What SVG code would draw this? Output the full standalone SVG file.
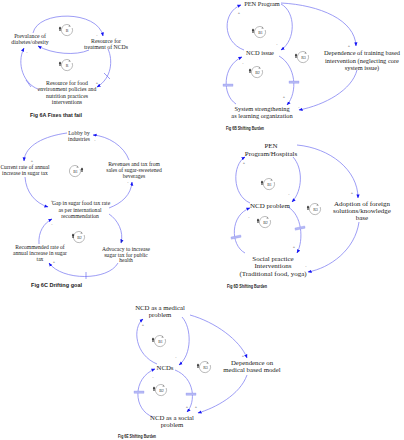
<svg xmlns="http://www.w3.org/2000/svg" xmlns:xlink="http://www.w3.org/1999/xlink" width="404" height="440" viewBox="0 0 404 440">
<style>
.bg{fill:#fff}
.ln{fill:none;stroke:#8484f2;stroke-width:0.8;marker-end:url(#ah)}
.t{font-family:"Liberation Serif","Times New Roman",serif;fill:#222;text-anchor:middle}
.a{font-size:5.8px}
.c{font-size:5.6px}
.b{font-size:6.4px}
.d{font-size:7px}
.e{font-size:6.8px}
.s{font-family:"Liberation Sans",Arial,sans-serif;font-size:4px;fill:#555;text-anchor:middle}
.cap{font-family:"Liberation Sans",Arial,sans-serif;font-weight:bold;font-size:5px;fill:#222}
.cs{font-size:5px}
.lp{font-family:"Liberation Serif",serif;font-size:4px;fill:#333;text-anchor:middle}
.dl{fill:#b4b8f4;stroke:#8c90ee;stroke-width:0.3}
.dx{stroke:#6d6df0;stroke-width:0.7}
</style>
<defs>
<marker id="ah" viewBox="0 0 10 10" refX="9" refY="5" markerWidth="4" markerHeight="4" markerUnits="userSpaceOnUse" orient="auto">
<path d="M0,1 L10,5 L0,9 z" fill="#1515f5"/>
</marker>
<g id="lc"><path d="M5.2,-2 A5.6,5.6 0 1 1 2.4,-5" fill="none" stroke="#777" stroke-width="0.5"/><path d="M2.4,-5 L3.9,-3.5 L1.4,-3.6z" fill="#777"/></g>
<g id="ic"><path d="M0,-2.6 L1.2,-0.6 L0.45,-0.6 L0.45,2 L-0.45,2 L-0.45,-0.6 L-1.2,-0.6z" fill="#000"/></g>
</defs>
<rect class="bg" x="0" y="0" width="404" height="440"/>

<g id="connectors">
<!-- 6A -->
<path class="ln" d="M33,33 C38,10 98,10 103,36"/>
<path class="ln" d="M89,50 C76,56 52,54 38,46"/>
<path class="ln" d="M108,49 C113,60 112,78 97,87"/>
<path class="ln" d="M38,89 C24,84 16,64 24,48"/>
<!-- 6B -->
<path class="ln" d="M244,50 C222,42 222,12 241,5"/>
<path class="ln" d="M281,4 C296,12 296,40 281,50"/>
<path class="ln" d="M236,104 C222,95 222,66 242,57"/>
<path class="ln" d="M279,56 C296,66 298,92 287,105"/>
<path class="ln" d="M281,3 C320,5 355,20 356,46"/>
<path class="ln" d="M357,70 C352,90 325,105 299,110"/>
<!-- 6C -->
<path class="ln" d="M67,133 C45,136 25,145 24,161"/>
<path class="ln" d="M129,160 C124,146 108,136 93,135"/>
<path class="ln" d="M25,177 C26,192 35,203 48,207"/>
<path class="ln" d="M109,208 C122,203 131,195 132,182"/>
<path class="ln" d="M109,214 C118,220 124,232 121,243"/>
<path class="ln" d="M118,263 C108,281 62,281 49,263"/>
<path class="ln" d="M39,244 C38,232 44,223 52,219"/>
<!-- 6D -->
<path class="ln" d="M250,203 C232,195 232,165 245,157"/>
<path class="ln" d="M293,157 C303,168 303,190 292,202"/>
<path class="ln" d="M245,253 C230,245 230,215 250,208"/>
<path class="ln" d="M288,207 C302,215 304,240 297,253"/>
<path class="ln" d="M297,145 C330,148 358,170 358,198"/>
<path class="ln" d="M359,222 C355,250 330,268 308,272"/>
<!-- 6E -->
<path class="ln" d="M157,364 C135,355 132,328 143,319"/>
<path class="ln" d="M182,317 C192,328 192,355 179,365"/>
<path class="ln" d="M153,417 C133,410 132,378 155,369"/>
<path class="ln" d="M175,370 C195,378 196,402 187,412"/>
<path class="ln" d="M190,315 C215,322 240,340 247,358"/>
<path class="ln" d="M247,375 C240,395 215,408 198,413"/>
<!-- delays -->
<g class="dx"><line x1="104" y1="73" x2="110" y2="79"/><line x1="26" y1="80" x2="31" y2="87"/></g>
<line class="dx" x1="86" y1="272" x2="86" y2="279"/>
<rect class="dl" x="223" y="84" width="10" height="2.2"/>
<rect class="dl" x="289" y="81" width="10" height="2.2"/>
<rect class="dl" x="231" y="236" width="10" height="2.2" transform="rotate(-12 236 237)"/>
<rect class="dl" x="295" y="227" width="10" height="2.2" transform="rotate(-12 300 228)"/>
<rect class="dl" x="134" y="391" width="10" height="2.2"/>
<rect class="dl" x="186" y="393" width="10" height="2.2"/>
</g>

<g id="fig6A">
<g id="n6a1"><text class="t a" x="30" y="38">Prevalance of</text><text class="t a" x="30" y="44">diabetes/obesity</text></g>
<g id="n6a2"><text class="t a" x="106" y="43">Resource for</text><text class="t a" x="106" y="49">treatment of NCDs</text></g>
<g id="n6a3"><text class="t a" x="67" y="85">Resource for food</text><text class="t a" x="67" y="91">environment policies and</text><text class="t a" x="67" y="97.5">nutrition practices</text><text class="t a" x="67" y="104">interventions</text></g>
<text class="s" x="97" y="36">-</text><text class="s" x="97" y="84">+</text><text class="s" x="27" y="53">-</text>
<use xlink:href="#lc" x="67" y="30"/><text class="lp" x="67" y="31.5">B</text><use xlink:href="#ic" x="60" y="29"/>
<use xlink:href="#lc" x="67" y="65"/><text class="lp" x="67" y="66.5">R</text><use xlink:href="#ic" x="60" y="64"/>
<text class="cap" x="30" y="117" textLength="52" lengthAdjust="spacingAndGlyphs">Fig 6A Fixes that fail</text>
</g>

<g id="fig6B">
<g id="n6b1"><text class="t b" x="262" y="6">PEN Program</text></g>
<g id="n6b2"><text class="t b" x="260" y="55">NCD issue</text></g>
<g id="n6b3"><text class="t b" x="362" y="55">Dependence of training based</text><text class="t b" x="362" y="62.5">intervention (neglecting core</text><text class="t b" x="362" y="69.5">system issue)</text></g>
<g id="n6b4"><text class="t b" x="262" y="111">System strengthening</text><text class="t b" x="262" y="118">as learning organization</text></g>
<text class="s" x="239" y="14">+</text><text class="s" x="277" y="45">-</text><text class="s" x="243" y="64">-</text><text class="s" x="284" y="98">+</text><text class="s" x="349" y="47">+</text><text class="s" x="299" y="108">-</text>
<use xlink:href="#lc" x="260" y="32"/><text class="lp" x="260.5" y="33.5">B1</text><use xlink:href="#ic" x="253" y="31"/>
<use xlink:href="#lc" x="257" y="72"/><text class="lp" x="257.5" y="73.5">B2</text><use xlink:href="#ic" x="250" y="71"/>
<use xlink:href="#lc" x="303" y="57"/><text class="lp" x="303.5" y="58.5">R3</text><use xlink:href="#ic" x="296" y="56"/>
<text class="cap cs" x="226" y="129.5" textLength="38" lengthAdjust="spacingAndGlyphs">Fig 6B Shifting Burden</text>
</g>

<g id="fig6C">
<g id="n6c1"><text class="t c" x="79" y="135">Lobby by</text><text class="t c" x="79" y="141">industries</text></g>
<g id="n6c2"><text class="t c" x="25" y="169">Current rate of annual</text><text class="t c" x="25" y="175">increase in sugar tax</text></g>
<g id="n6c3"><text class="t c" x="134" y="166">Revenues and tax from</text><text class="t c" x="134" y="172">sales of sugar-sweetened</text><text class="t c" x="134" y="177.5">beverages</text></g>
<g id="n6c4"><text class="t c" x="81" y="205">Gap in sugar food tax rate</text><text class="t c" x="80" y="211.5">as per international</text><text class="t c" x="80" y="217.5">recommendation</text></g>
<g id="n6c5"><text class="t c" x="40" y="249">Recommended rate of</text><text class="t c" x="40" y="255">annual increase in sugar</text><text class="t c" x="40" y="261">tax</text></g>
<g id="n6c6"><text class="t c" x="126" y="251">Advocacy to increase</text><text class="t c" x="126" y="256.5">sugar tax for public</text><text class="t c" x="126" y="262">health</text></g>
<text class="s" x="95" y="141">-</text><text class="s" x="32" y="162">+</text><text class="s" x="52" y="202">+</text><text class="s" x="128" y="183">-</text><text class="s" x="52" y="225">-</text><text class="s" x="122" y="242">+</text><text class="s" x="54" y="263">+</text>
<use xlink:href="#lc" x="75" y="171"/><text class="lp" x="75.5" y="172.5">B1</text><use xlink:href="#ic" x="82" y="170"/>
<use xlink:href="#lc" x="79" y="237"/><text class="lp" x="79.5" y="238.5">B2</text><use xlink:href="#ic" x="73" y="236"/>
<text class="cap" x="31" y="287" textLength="51" lengthAdjust="spacingAndGlyphs">Fig 6C Drifting goal</text>
</g>

<g id="fig6D">
<g id="n6d1"><text class="t d" x="271" y="148">PEN</text><text class="t d" x="271" y="155.5">Program/Hospitals</text></g>
<g id="n6d2"><text class="t d" x="270" y="207.5">NCD problem</text></g>
<g id="n6d3"><text class="t d" x="362" y="205.5">Adoption of foreign</text><text class="t d" x="362" y="213">solutions/knowledge</text><text class="t d" x="362" y="220">base</text></g>
<g id="n6d4"><text class="t d" x="273" y="260.5">Social practice</text><text class="t d" x="273" y="268">Interventions</text><text class="t d" x="273" y="275.5">(Traditional food, yoga)</text></g>
<text class="s" x="244" y="164">+</text><text class="s" x="289" y="195">-</text><text class="s" x="249" y="218">-</text><text class="s" x="294" y="248">+</text><text class="s" x="352" y="194">+</text><text class="s" x="306" y="267">-</text>
<use xlink:href="#lc" x="269" y="184"/><text class="lp" x="269.5" y="185.5">B1</text><use xlink:href="#ic" x="262" y="183"/>
<use xlink:href="#lc" x="265" y="222"/><text class="lp" x="265.5" y="223.5">B2</text><use xlink:href="#ic" x="258" y="221"/>
<use xlink:href="#lc" x="315" y="209"/><text class="lp" x="315.5" y="210.5">R3</text><use xlink:href="#ic" x="308" y="208"/>
<text class="cap cs" x="227" y="287.5" textLength="40" lengthAdjust="spacingAndGlyphs">Fig 6D Shifting Burden</text>
</g>

<g id="fig6E">
<g id="n6e1"><text class="t e" x="160" y="310">NCD as a medical</text><text class="t e" x="160" y="317">problem</text></g>
<g id="n6e2"><text class="t e" x="165" y="369.5">NCDs</text></g>
<g id="n6e3"><text class="t e" x="252" y="365">Dependence on</text><text class="t e" x="252" y="372">medical based model</text></g>
<g id="n6e4"><text class="t e" x="172" y="420">NCD as a social</text><text class="t e" x="172" y="426.5">problem</text></g>
<text class="s" x="143" y="326">+</text><text class="s" x="176" y="358">-</text><text class="s" x="153" y="378">-</text><text class="s" x="187" y="408">+</text><text class="s" x="243" y="357">+</text><text class="s" x="196" y="408">+</text>
<use xlink:href="#lc" x="160" y="341"/><text class="lp" x="160.5" y="342.5">B1</text><use xlink:href="#ic" x="153" y="340"/>
<use xlink:href="#lc" x="161" y="390"/><text class="lp" x="161.5" y="391.5">B2</text><use xlink:href="#ic" x="154" y="389"/>
<use xlink:href="#lc" x="205" y="367"/><text class="lp" x="205.5" y="368.5">R3</text><use xlink:href="#ic" x="198" y="366"/>
<text class="cap cs" x="118" y="437.5" textLength="38" lengthAdjust="spacingAndGlyphs">Fig 6E Shifting Burden</text>
</g>
</svg>
